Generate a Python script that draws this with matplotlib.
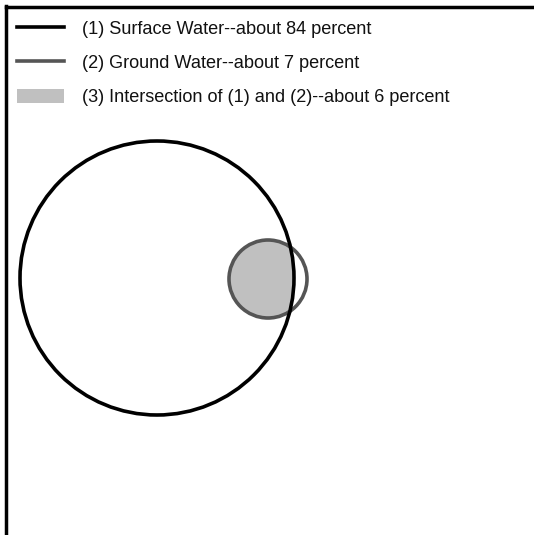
import matplotlib
matplotlib.use("Agg")
from matplotlib import pyplot as plt
from matplotlib.patches import Circle, Rectangle
from matplotlib.lines import Line2D

plt.rcParams['font.family'] = ['Liberation Sans', 'DejaVu Sans']

labels = ['(1) Surface Water--about 84 percent',
          '(2) Ground Water--about 7 percent',
          '(3) Intersection of (1) and (2)--about 6 percent']
# circle centers and radii (pixel units of the drawing)
surface_center = (157, 278)
surface_radius = 137
ground_center = (268, 279)
ground_radius = 39

fig = plt.figure(figsize=(5.34, 5.35), dpi=100)
ax = fig.add_axes([0, 0, 1, 1])
ax.set_xlim(0, 534)
ax.set_ylim(535, 0)
ax.set_aspect('equal')
ax.axis('off')

# frame: only left and top edges
ax.add_line(Line2D([5.5, 5.5], [535, 5.5], color='black', lw=2.5, solid_capstyle='projecting'))
ax.add_line(Line2D([5.5, 534], [6.5, 6.5], color='black', lw=2.5, solid_capstyle='projecting'))

# intersection fill: gray ground circle clipped to the surface circle
big_clip = Circle(surface_center, surface_radius, transform=ax.transData)
fill = Circle(ground_center, ground_radius, facecolor='#c0c0c0', edgecolor='none')
ax.add_patch(fill)
fill.set_clip_path(big_clip)

ax.add_patch(Circle(ground_center, ground_radius, facecolor='none',
                    edgecolor='#555555', lw=2.6))
ax.add_patch(Circle(surface_center, surface_radius, facecolor='none',
                    edgecolor='black', lw=2.6))

# legend
ys = [27, 61, 96]
ax.add_line(Line2D([17, 64], [ys[0], ys[0]], color='black', lw=2.6))
ax.add_line(Line2D([17, 64], [ys[1], ys[1]], color='#555555', lw=2.6))
ax.add_patch(Rectangle((17, ys[2] - 7), 47, 14, facecolor='#c0c0c0', edgecolor='none'))
for y, lab in zip(ys, labels):
    ax.text(82, y, lab, fontsize=13.1, va='center_baseline', ha='left', color='#111111')

fig.savefig('out.png', dpi=100)
